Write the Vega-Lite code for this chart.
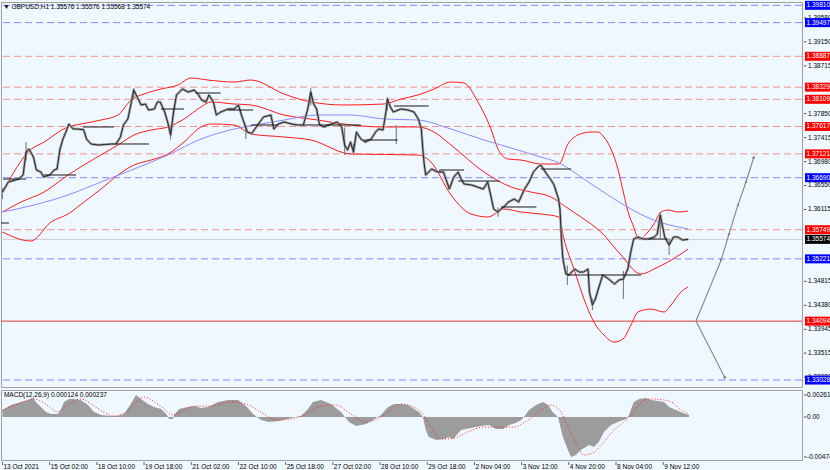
{
  "$schema": "https://vega.github.io/schema/vega-lite/v6.json",
  "padding": 0,
  "background": "#f0f8ff",
  "spacing": 1,
  "config": {
    "view": {"stroke": "#a0a0a0", "fill": "#f0f8ff"},
    "font": "Liberation Sans",
    "concat": {"spacing": 0},
    "line": {"strokeJoin": "round", "clip": true},
    "rule": {"clip": true},
    "text": {"clip": true},
    "area": {"clip": true},
    "point": {"clip": true},
    "tick": {"clip": true}
  },
  "resolve": {"scale": {"color": "independent", "fill": "independent", "stroke": "independent", "strokeDash": "independent"}},
  "datasets": {
    "levels": [
      {"p": 1.39810, "kind": "pivot"}, {"p": 1.39497, "kind": "pivot"}, {"p": 1.38887, "kind": "level"},
      {"p": 1.38329, "kind": "level"}, {"p": 1.38109, "kind": "level"}, {"p": 1.37617, "kind": "level"},
      {"p": 1.37121, "kind": "level"}, {"p": 1.36690, "kind": "pivot"}, {"p": 1.35749, "kind": "level"},
      {"p": 1.35574, "kind": "last"}, {"p": 1.35221, "kind": "pivot"}, {"p": 1.34094, "kind": "key"},
      {"p": 1.33028, "kind": "pivot"}
    ],
    "ticks": [
      {"p": 1.39580}, {"p": 1.39150}, {"p": 1.38715}, {"p": 1.37850}, {"p": 1.37415}, {"p": 1.36980},
      {"p": 1.36550}, {"p": 1.36115}, {"p": 1.34815}, {"p": 1.34380}, {"p": 1.33945}, {"p": 1.33515}, {"p": 1.33080}
    ],
    "macdticks": [
      {"v": 0.00261, "lab": "0.00261"}, {"v": 0, "lab": "0.00"}, {"v": -0.00474, "lab": "-0.00474"}
    ],
    "dates": [
      {"t": 0, "lab": "13 Oct 2021"}, {"t": 32, "lab": "15 Oct 02:00"}, {"t": 64, "lab": "18 Oct 10:00"},
      {"t": 96, "lab": "19 Oct 18:00"}, {"t": 128, "lab": "21 Oct 02:00"}, {"t": 160, "lab": "22 Oct 10:00"},
      {"t": 192, "lab": "25 Oct 18:00"}, {"t": 224, "lab": "27 Oct 02:00"}, {"t": 256, "lab": "28 Oct 10:00"},
      {"t": 288, "lab": "29 Oct 18:00"}, {"t": 320, "lab": "2 Nov 04:00"}, {"t": 352, "lab": "3 Nov 12:00"},
      {"t": 384, "lab": "4 Nov 20:00"}, {"t": 416, "lab": "8 Nov 04:00"}, {"t": 448, "lab": "9 Nov 12:00"}
    ],
    "price": [
      {"t":0,"c":1.36431},{"t":4,"c":1.36612},{"t":11,"c":1.36666},{"t":14,"c":1.36739},{"t":16,"c":1.37155},
      {"t":18,"c":1.37209},{"t":21,"c":1.37065},{"t":23,"c":1.36829},{"t":26,"c":1.36793},{"t":28,"c":1.36703},
      {"t":32,"c":1.36739},{"t":35,"c":1.36829},{"t":37,"c":1.36847},{"t":39,"c":1.37209},{"t":41,"c":1.37390},
      {"t":43,"c":1.37517},{"t":45,"c":1.37662},{"t":48,"c":1.37571},{"t":51,"c":1.37571},{"t":55,"c":1.37560},
      {"t":57,"c":1.37390},{"t":60,"c":1.37300},{"t":65,"c":1.37282},{"t":69,"c":1.37290},{"t":74,"c":1.37300},
      {"t":77,"c":1.37300},{"t":80,"c":1.37427},{"t":82,"c":1.37644},{"t":85,"c":1.37752},{"t":87,"c":1.38006},
      {"t":89,"c":1.38277},{"t":92,"c":1.38114},{"t":94,"c":1.38006},{"t":97,"c":1.38024},{"t":99,"c":1.37915},
      {"t":103,"c":1.37933},{"t":105,"c":1.38060},{"t":107,"c":1.38060},{"t":110,"c":1.37879},{"t":112,"c":1.37698},
      {"t":114,"c":1.37463},{"t":116,"c":1.37879},{"t":118,"c":1.38187},{"t":120,"c":1.38241},{"t":122,"c":1.38295},
      {"t":126,"c":1.38241},{"t":130,"c":1.38277},{"t":133,"c":1.38187},{"t":135,"c":1.38096},{"t":138,"c":1.38060},
      {"t":140,"c":1.38187},{"t":143,"c":1.38060},{"t":145,"c":1.37825},{"t":148,"c":1.37879},{"t":153,"c":1.37933},
      {"t":157,"c":1.37933},{"t":160,"c":1.38006},{"t":162,"c":1.37825},{"t":166,"c":1.37517},{"t":169,"c":1.37490},
      {"t":173,"c":1.37644},{"t":177,"c":1.37789},{"t":182,"c":1.37825},{"t":184,"c":1.37571},{"t":187,"c":1.37662},
      {"t":191,"c":1.37698},{"t":196,"c":1.37662},{"t":200,"c":1.37644},{"t":204,"c":1.37644},{"t":207,"c":1.37933},
      {"t":209,"c":1.38241},{"t":211,"c":1.38024},{"t":213,"c":1.37933},{"t":215,"c":1.37644},{"t":218,"c":1.37608},
      {"t":223,"c":1.37662},{"t":227,"c":1.37698},{"t":230,"c":1.37608},{"t":232,"c":1.37282},{"t":234,"c":1.37191},
      {"t":236,"c":1.37336},{"t":238,"c":1.37155},{"t":240,"c":1.37517},{"t":243,"c":1.37390},{"t":246,"c":1.37336},
      {"t":250,"c":1.37390},{"t":253,"c":1.37517},{"t":255,"c":1.37571},{"t":258,"c":1.37553},{"t":260,"c":1.37879},
      {"t":261,"c":1.38114},{"t":263,"c":1.37970},{"t":265,"c":1.37879},{"t":270,"c":1.37933},{"t":275,"c":1.37915},
      {"t":279,"c":1.37879},{"t":282,"c":1.37752},{"t":284,"c":1.37571},{"t":285,"c":1.37209},{"t":286,"c":1.36920},
      {"t":287,"c":1.36739},{"t":291,"c":1.36847},{"t":295,"c":1.36793},{"t":299,"c":1.36793},{"t":303,"c":1.36485},
      {"t":306,"c":1.36703},{"t":309,"c":1.36793},{"t":311,"c":1.36666},{"t":313,"c":1.36576},{"t":318,"c":1.36558},
      {"t":322,"c":1.36522},{"t":326,"c":1.36485},{"t":329,"c":1.36612},{"t":331,"c":1.36377},{"t":333,"c":1.36123},
      {"t":336,"c":1.36069},{"t":338,"c":1.36123},{"t":340,"c":1.36160},{"t":343,"c":1.36250},{"t":347,"c":1.36304},
      {"t":350,"c":1.36250},{"t":354,"c":1.36485},{"t":357,"c":1.36612},{"t":360,"c":1.36793},{"t":363,"c":1.36884},
      {"t":365,"c":1.36920},{"t":369,"c":1.36757},{"t":372,"c":1.36648},{"t":374,"c":1.36558},{"t":377,"c":1.36304},
      {"t":378,"c":1.36123},{"t":379,"c":1.35580},{"t":380,"c":1.35218},{"t":382,"c":1.34947},{"t":384,"c":1.34929},
      {"t":388,"c":1.35037},{"t":391,"c":1.34983},{"t":394,"c":1.34983},{"t":397,"c":1.35037},{"t":398,"c":1.34621},
      {"t":400,"c":1.34386},{"t":402,"c":1.34494},{"t":404,"c":1.34675},{"t":407,"c":1.34929},{"t":411,"c":1.34856},
      {"t":415,"c":1.34766},{"t":418,"c":1.34838},{"t":421,"c":1.34856},{"t":424,"c":1.35037},{"t":426,"c":1.35345},
      {"t":428,"c":1.35580},{"t":431,"c":1.35617},{"t":434,"c":1.35580},{"t":438,"c":1.35580},{"t":442,"c":1.35617},
      {"t":444,"c":1.35671},{"t":446,"c":1.36015},{"t":449,"c":1.35617},{"t":452,"c":1.35472},{"t":455,"c":1.35617},
      {"t":458,"c":1.35617},{"t":461,"c":1.35562},{"t":465,"c":1.35574}
    ],
    "wicks": [
      {"t":0,"hi":1.36500,"lo":1.36304},{"t":16,"hi":1.37336,"lo":1.37000},{"t":89,"hi":1.38313,"lo":1.38100},
      {"t":114,"hi":1.37600,"lo":1.37380},{"t":165,"hi":1.37650,"lo":1.37390},{"t":209,"hi":1.38313,"lo":1.38000},
      {"t":232,"hi":1.37600,"lo":1.37100},{"t":238,"hi":1.37300,"lo":1.37100},{"t":261,"hi":1.38150,"lo":1.37900},
      {"t":267,"hi":1.37644,"lo":1.37300},{"t":336,"hi":1.36150,"lo":1.35985},{"t":383,"hi":1.35100,"lo":1.34748},
      {"t":400,"hi":1.34500,"lo":1.34295},{"t":421,"hi":1.35000,"lo":1.34494},{"t":446,"hi":1.36069,"lo":1.35600},
      {"t":452,"hi":1.35600,"lo":1.35290}
    ],
    "segments": [
      {"t1":-1,"t2":4.4,"p":1.35870},{"t1":0.4,"t2":16,"p":1.36666},{"t1":28.2,"t2":49.9,"p":1.36739},
      {"t1":54.6,"t2":75.6,"p":1.37608},{"t1":77,"t2":99.3,"p":1.37300},{"t1":107.5,"t2":123,"p":1.37933},
      {"t1":131,"t2":148,"p":1.38223},{"t1":153,"t2":170,"p":1.37915},{"t1":168.5,"t2":187,"p":1.37644},
      {"t1":204,"t2":243,"p":1.37644},{"t1":245,"t2":268,"p":1.37372},{"t1":265.5,"t2":289,"p":1.37988},
      {"t1":296,"t2":313,"p":1.36829},{"t1":309,"t2":337,"p":1.36630},{"t1":338,"t2":362,"p":1.36160},
      {"t1":365,"t2":385.5,"p":1.36847},{"t1":383.4,"t2":433,"p":1.34929},{"t1":438,"t2":451,"p":1.35580}
    ],
    "bands": [
      {"band":"upper","t":0,"p":1.36431},{"band":"upper","t":7.8,"p":1.36793},{"band":"upper","t":17.3,"p":1.37155},
      {"band":"upper","t":28.2,"p":1.37336},{"band":"upper","t":44.4,"p":1.37608},{"band":"upper","t":53.2,"p":1.37662},
      {"band":"upper","t":66.8,"p":1.37734},{"band":"upper","t":78.3,"p":1.37825},{"band":"upper","t":87.1,"p":1.38096},
      {"band":"upper","t":96,"p":1.38205},{"band":"upper","t":107.5,"p":1.38295},{"band":"upper","t":119,"p":1.38368},
      {"band":"upper","t":127.8,"p":1.38494},{"band":"upper","t":139.3,"p":1.38458},{"band":"upper","t":157,"p":1.38422},
      {"band":"upper","t":168.5,"p":1.38458},{"band":"upper","t":190.9,"p":1.38205},{"band":"upper","t":209.2,"p":1.38060},
      {"band":"upper","t":231.6,"p":1.38006},{"band":"upper","t":258.7,"p":1.38024},{"band":"upper","t":270.2,"p":1.38114},
      {"band":"upper","t":281.7,"p":1.38187},{"band":"upper","t":292.6,"p":1.38295},{"band":"upper","t":304.1,"p":1.38422},
      {"band":"upper","t":312.9,"p":1.38404},{"band":"upper","t":322.4,"p":1.38060},{"band":"upper","t":331.2,"p":1.37571},
      {"band":"upper","t":336,"p":1.37209},{"band":"upper","t":342.7,"p":1.37028},{"band":"upper","t":351.6,"p":1.37010},
      {"band":"upper","t":365.1,"p":1.36938},{"band":"upper","t":377.3,"p":1.36938},{"band":"upper","t":383.4,"p":1.37300},
      {"band":"upper","t":390.2,"p":1.37463},{"band":"upper","t":399,"p":1.37517},{"band":"upper","t":403.8,"p":1.37517},
      {"band":"upper","t":407.8,"p":1.37427},{"band":"upper","t":412.6,"p":1.37209},{"band":"upper","t":417.3,"p":1.36847},
      {"band":"upper","t":421.4,"p":1.36377},{"band":"upper","t":424.8,"p":1.36015},{"band":"upper","t":427.5,"p":1.35834},
      {"band":"upper","t":431.6,"p":1.35580},{"band":"upper","t":437.7,"p":1.35707},{"band":"upper","t":441.7,"p":1.35852},
      {"band":"upper","t":446.5,"p":1.36069},{"band":"upper","t":451.2,"p":1.36105},{"band":"upper","t":458,"p":1.36069},
      {"band":"upper","t":464.8,"p":1.36087},
      {"band":"mid","t":0,"p":1.36069},{"band":"mid","t":12.6,"p":1.36250},{"band":"mid","t":28.2,"p":1.36431},
      {"band":"mid","t":44.4,"p":1.36739},{"band":"mid","t":62,"p":1.37028},{"band":"mid","t":78.3,"p":1.37282},
      {"band":"mid","t":89.2,"p":1.37463},{"band":"mid","t":100.7,"p":1.37553},{"band":"mid","t":112.2,"p":1.37608},
      {"band":"mid","t":123.1,"p":1.37752},{"band":"mid","t":134.6,"p":1.37970},{"band":"mid","t":141.4,"p":1.38060},
      {"band":"mid","t":157,"p":1.38024},{"band":"mid","t":168.5,"p":1.38006},{"band":"mid","t":190.9,"p":1.37825},
      {"band":"mid","t":213.9,"p":1.37734},{"band":"mid","t":236.3,"p":1.37644},{"band":"mid","t":258.7,"p":1.37608},
      {"band":"mid","t":281.7,"p":1.37608},{"band":"mid","t":292.6,"p":1.37517},{"band":"mid","t":304.1,"p":1.37282},
      {"band":"mid","t":326.5,"p":1.36793},{"band":"mid","t":344.8,"p":1.36522},{"band":"mid","t":358.3,"p":1.36431},
      {"band":"mid","t":371.9,"p":1.36341},{"band":"mid","t":382.1,"p":1.36160},{"band":"mid","t":392.2,"p":1.35979},
      {"band":"mid","t":405.8,"p":1.35707},{"band":"mid","t":419.4,"p":1.35291},{"band":"mid","t":432.9,"p":1.34947},
      {"band":"mid","t":443.1,"p":1.35055},{"band":"mid","t":451.2,"p":1.35164},{"band":"mid","t":464.8,"p":1.35399},
      {"band":"lower","t":0,"p":1.35707},{"band":"lower","t":19.3,"p":1.35544},{"band":"lower","t":32.9,"p":1.35888},
      {"band":"lower","t":44.4,"p":1.36033},{"band":"lower","t":55.3,"p":1.36250},{"band":"lower","t":66.8,"p":1.36485},
      {"band":"lower","t":78.3,"p":1.36739},{"band":"lower","t":89.2,"p":1.36920},{"band":"lower","t":100.7,"p":1.37010},
      {"band":"lower","t":112.2,"p":1.37119},{"band":"lower","t":123.1,"p":1.37336},{"band":"lower","t":134.6,"p":1.37608},
      {"band":"lower","t":141.4,"p":1.37662},{"band":"lower","t":157,"p":1.37644},{"band":"lower","t":168.5,"p":1.37481},
      {"band":"lower","t":190.9,"p":1.37427},{"band":"lower","t":209.2,"p":1.37372},{"band":"lower","t":236.3,"p":1.37119},
      {"band":"lower","t":281.7,"p":1.37101},{"band":"lower","t":290.5,"p":1.36974},{"band":"lower","t":304.1,"p":1.36377},
      {"band":"lower","t":317.7,"p":1.36033},{"band":"lower","t":329.2,"p":1.35979},{"band":"lower","t":340,"p":1.36123},
      {"band":"lower","t":351.6,"p":1.36069},{"band":"lower","t":365.1,"p":1.36033},{"band":"lower","t":377.3,"p":1.35979},
      {"band":"lower","t":380.7,"p":1.35580},{"band":"lower","t":387.5,"p":1.35037},{"band":"lower","t":394.3,"p":1.34494},
      {"band":"lower","t":401,"p":1.34078},{"band":"lower","t":407.8,"p":1.33843},{"band":"lower","t":414.6,"p":1.33716},
      {"band":"lower","t":420.7,"p":1.33770},{"band":"lower","t":426.1,"p":1.34024},{"band":"lower","t":430.9,"p":1.34259},
      {"band":"lower","t":439.7,"p":1.34313},{"band":"lower","t":448.5,"p":1.34259},{"band":"lower","t":453.3,"p":1.34386},
      {"band":"lower","t":460,"p":1.34621},{"band":"lower","t":464.8,"p":1.34712}
    ],
    "ma": [
      {"t":0,"p":1.36069},{"t":21.4,"p":1.36196},{"t":44.4,"p":1.36377},{"t":66.8,"p":1.36612},{"t":89.2,"p":1.36847},
      {"t":112.2,"p":1.37101},{"t":134.6,"p":1.37390},{"t":157,"p":1.37571},{"t":175.3,"p":1.37662},{"t":190.9,"p":1.37734},
      {"t":213.9,"p":1.37825},{"t":236.3,"p":1.37825},{"t":258.7,"p":1.37752},{"t":281.7,"p":1.37734},{"t":304.1,"p":1.37571},
      {"t":326.5,"p":1.37372},{"t":338,"p":1.37282},{"t":360.4,"p":1.37101},{"t":378.7,"p":1.36938},{"t":394.3,"p":1.36666},
      {"t":410.5,"p":1.36377},{"t":426.1,"p":1.36123},{"t":439.7,"p":1.35943},{"t":464.8,"p":1.35761}
    ],
    "arrows": [
      {"g":"up","t":470.2,"p":1.34096},{"g":"up","t":477.0,"p":1.34531},{"g":"up","t":481.7,"p":1.34838},
      {"g":"up","t":487.2,"p":1.35200},{"g":"up","t":492.6,"p":1.35671},{"g":"up","t":498.7,"p":1.36196},
      {"g":"up","t":504.1,"p":1.36612},{"g":"up","t":509.5,"p":1.37065},
      {"g":"down","t":470.2,"p":1.34096},{"g":"down","t":489.9,"p":1.33064}
    ],
    "hist": [
      {"t":0,"v":0.00083},{"t":5.8,"v":0.00142},{"t":12.6,"v":0.00178},{"t":17.3,"v":0.00202},{"t":20.7,"v":0.00225},
      {"t":22.7,"v":0.00178},{"t":26,"v":0.00119},{"t":29.5,"v":0.00059},{"t":33,"v":0.00036},{"t":37.6,"v":0.00036},
      {"t":39.7,"v":0.00095},{"t":41.7,"v":0.00178},{"t":45,"v":0.00213},{"t":48.5,"v":0.00213},{"t":53,"v":0.00202},
      {"t":58,"v":0.00142},{"t":62,"v":0.00059},{"t":67,"v":0.00024},{"t":73.6,"v":0.00012},{"t":78,"v":0.00012},
      {"t":82.4,"v":0.00036},{"t":87,"v":0.00154},{"t":90.5,"v":0.00261},{"t":94,"v":0.00213},{"t":98.7,"v":0.00154},
      {"t":102.7,"v":0.00119},{"t":107.5,"v":0.00095},{"t":111,"v":0.00036},{"t":113,"v":-0.00024},{"t":115.6,"v":-0.00024},
      {"t":116.3,"v":0.00024},{"t":119.7,"v":0.00095},{"t":125.8,"v":0.00119},{"t":130,"v":0.00130},{"t":134.6,"v":0.00107},
      {"t":139.3,"v":0.00119},{"t":146.1,"v":0.00178},{"t":152.9,"v":0.00202},{"t":159.7,"v":0.00202},{"t":165.1,"v":0.00130},
      {"t":169.9,"v":0.00036},{"t":175.3,"v":-0.00036},{"t":180.7,"v":-0.00059},{"t":187.5,"v":-0.00047},{"t":195.6,"v":-0.00012},
      {"t":202.4,"v":0.00012},{"t":207.1,"v":0.00095},{"t":210.5,"v":0.00178},{"t":216,"v":0.00202},{"t":222.7,"v":0.00154},
      {"t":229.5,"v":0.00059},{"t":235,"v":-0.00059},{"t":239.7,"v":-0.00107},{"t":246.5,"v":-0.00083},{"t":251.2,"v":-0.00036},
      {"t":256.6,"v":0.00024},{"t":261.4,"v":0.00119},{"t":265.5,"v":0.00154},{"t":270.2,"v":0.00154},{"t":275,"v":0.00142},
      {"t":279,"v":0.00095},{"t":282.4,"v":0.00059},{"t":285,"v":0},{"t":287,"v":-0.00154},{"t":289,"v":-0.00237},
      {"t":294,"v":-0.00273},{"t":299.4,"v":-0.00261},{"t":302.7,"v":-0.00237},{"t":305.5,"v":-0.00261},{"t":311,"v":-0.00154},
      {"t":317.7,"v":-0.00130},{"t":324.4,"v":-0.00107},{"t":330,"v":-0.00095},{"t":334.6,"v":-0.00142},{"t":339.4,"v":-0.00142},
      {"t":343.4,"v":-0.00095},{"t":348,"v":-0.00071},{"t":351.6,"v":-0.00036},{"t":353.6,"v":0},{"t":357,"v":0.00083},
      {"t":361.7,"v":0.00142},{"t":366.5,"v":0.00178},{"t":370,"v":0.00142},{"t":373,"v":0.00059},{"t":376.6,"v":0},
      {"t":380,"v":-0.00237},{"t":383.4,"v":-0.00391},{"t":385.5,"v":-0.00474},{"t":388.9,"v":-0.00451},{"t":392,"v":-0.00391},
      {"t":395.6,"v":-0.00356},{"t":397.7,"v":-0.00332},{"t":401,"v":-0.00356},{"t":404.4,"v":-0.00297},{"t":407.8,"v":-0.00178},
      {"t":412.6,"v":-0.00095},{"t":417.3,"v":-0.00059},{"t":422.8,"v":-0.00024},{"t":424.8,"v":0.00024},{"t":428,"v":0.00178},
      {"t":431.6,"v":0.00213},{"t":436.3,"v":0.00225},{"t":439.7,"v":0.00202},{"t":444.4,"v":0.00190},{"t":448.5,"v":0.00178},
      {"t":452,"v":0.00119},{"t":456.7,"v":0.00083},{"t":461.4,"v":0.00047},{"t":465.5,"v":0.00024}
    ],
    "signal": [
      {"t":0,"v":0.00083},{"t":10.5,"v":0.00154},{"t":21.4,"v":0.00213},{"t":28.2,"v":0.00166},{"t":37.6,"v":0.00059},
      {"t":43.1,"v":0.00130},{"t":53.2,"v":0.00213},{"t":62,"v":0.00130},{"t":75.6,"v":0.00012},{"t":83.8,"v":0.00059},
      {"t":96,"v":0.00237},{"t":106.1,"v":0.00142},{"t":116.3,"v":0.00024},{"t":127.8,"v":0.00119},{"t":134.6,"v":0.00130},
      {"t":141.4,"v":0.00130},{"t":155,"v":0.00178},{"t":165.1,"v":0.00154},{"t":175.3,"v":0.00059},{"t":185.5,"v":-0.00036},
      {"t":195.6,"v":-0.00024},{"t":205.8,"v":0.00036},{"t":216,"v":0.00130},{"t":226.1,"v":0.00142},{"t":236.3,"v":0.00036},
      {"t":246.5,"v":-0.00059},{"t":256.6,"v":0},{"t":263.4,"v":0.00083},{"t":270.2,"v":0.00154},{"t":277,"v":0.00130},
      {"t":283.8,"v":0.00059},{"t":290.5,"v":-0.00119},{"t":297.3,"v":-0.00261},{"t":306.1,"v":-0.00249},{"t":315.6,"v":-0.00178},
      {"t":326.5,"v":-0.00119},{"t":338,"v":-0.00119},{"t":346.8,"v":-0.00119},{"t":356.3,"v":-0.00036},{"t":365.1,"v":0.00083},
      {"t":371.9,"v":0.00142},{"t":378.7,"v":0.00059},{"t":383.4,"v":-0.00119},{"t":388.9,"v":-0.00297},{"t":394.3,"v":-0.00451},
      {"t":401,"v":-0.00415},{"t":407.8,"v":-0.00297},{"t":414.6,"v":-0.00154},{"t":421.4,"v":-0.00059},{"t":428.2,"v":0.00059},
      {"t":433,"v":0.00178},{"t":439.7,"v":0.00213},{"t":448.5,"v":0.00202},{"t":454.6,"v":0.00166},{"t":460,"v":0.00083},
      {"t":465.5,"v":0.00036}
    ]
  },
  "vconcat": [
    {
      "resolve": {"scale": {"color": "independent", "fill": "independent", "stroke": "independent", "strokeDash": "independent"}},
      "hconcat": [
        {
          "width": 801,
          "height": 385,
          "layer": [
            {
              "data": {"name": "levels"},
              "mark": {"type": "rule", "strokeWidth": 1},
              "encoding": {
                "y": {"field": "p", "type": "quantitative", "scale": {"domain": [1.32902, 1.39870], "nice": false, "zero": false}, "axis": null},
                "color": {"field": "kind", "type": "nominal", "legend": null,
                  "scale": {"domain": ["pivot", "level", "key", "last"], "range": ["#8585ff", "#f39090", "#e03a3a", "#cfcfcf"]}},
                "strokeDash": {"field": "kind", "type": "nominal", "legend": null,
                  "scale": {"domain": ["pivot", "level", "key", "last"], "range": [[7, 4], [7, 4], [1, 0], [1, 0]]}}
              }
            },
            {
              "data": {"name": "bands"},
              "mark": {"type": "line", "stroke": "#ff1a1a", "strokeWidth": 1, "interpolate": "monotone"},
              "encoding": {
                "x": {"field": "t", "type": "quantitative", "scale": {"domain": [-1, 542.1], "nice": false, "zero": false}, "axis": null},
                "y": {"field": "p", "type": "quantitative", "scale": {"domain": [1.32902, 1.39870], "nice": false, "zero": false}, "axis": null},
                "detail": {"field": "band", "type": "nominal"}
              }
            },
            {
              "data": {"name": "ma"},
              "mark": {"type": "line", "stroke": "#8a8aff", "strokeWidth": 1, "interpolate": "monotone"},
              "encoding": {
                "x": {"field": "t", "type": "quantitative", "scale": {"domain": [-1, 542.1], "nice": false, "zero": false}, "axis": null},
                "y": {"field": "p", "type": "quantitative", "scale": {"domain": [1.32902, 1.39870], "nice": false, "zero": false}, "axis": null}
              }
            },
            {
              "data": {"name": "price"},
              "mark": {"type": "line", "stroke": "#a3a3a3", "strokeWidth": 2.6},
              "encoding": {
                "x": {"field": "t", "type": "quantitative", "scale": {"domain": [-1, 542.1], "nice": false, "zero": false}, "axis": null},
                "y": {"field": "c", "type": "quantitative", "scale": {"domain": [1.32902, 1.39870], "nice": false, "zero": false}, "axis": null}
              }
            },
            {
              "data": {"name": "wicks"},
              "mark": {"type": "rule", "stroke": "#7a7a7a", "strokeWidth": 1.1},
              "encoding": {
                "x": {"field": "t", "type": "quantitative", "scale": {"domain": [-1, 542.1], "nice": false, "zero": false}, "axis": null},
                "y": {"field": "hi", "type": "quantitative", "scale": {"domain": [1.32902, 1.39870], "nice": false, "zero": false}, "axis": null},
                "y2": {"field": "lo"}
              }
            },
            {
              "data": {"name": "price"},
              "mark": {"type": "line", "stroke": "#1a1a1a", "strokeWidth": 0.9},
              "encoding": {
                "x": {"field": "t", "type": "quantitative", "scale": {"domain": [-1, 542.1], "nice": false, "zero": false}, "axis": null},
                "y": {"field": "c", "type": "quantitative", "scale": {"domain": [1.32902, 1.39870], "nice": false, "zero": false}, "axis": null}
              }
            },
            {
              "data": {"name": "segments"},
              "mark": {"type": "rule", "stroke": "#1a1a1a", "strokeWidth": 1},
              "encoding": {
                "x": {"field": "t1", "type": "quantitative", "scale": {"domain": [-1, 542.1], "nice": false, "zero": false}, "axis": null},
                "x2": {"field": "t2"},
                "y": {"field": "p", "type": "quantitative", "scale": {"domain": [1.32902, 1.39870], "nice": false, "zero": false}, "axis": null}
              }
            },
            {
              "data": {"name": "arrows"},
              "mark": {"type": "line", "stroke": "#8c8c8c", "strokeWidth": 1.2, "interpolate": "monotone"},
              "encoding": {
                "x": {"field": "t", "type": "quantitative", "scale": {"domain": [-1, 542.1], "nice": false, "zero": false}, "axis": null},
                "y": {"field": "p", "type": "quantitative", "scale": {"domain": [1.32902, 1.39870], "nice": false, "zero": false}, "axis": null},
                "detail": {"field": "g", "type": "nominal"}
              }
            },
            {
              "data": {"name": "arrows"},
              "transform": [{"filter": "datum.g == 'up' && datum.t > 485 && datum.t < 509"}],
              "mark": {"type": "point", "filled": true, "color": "#777777", "size": 6},
              "encoding": {
                "x": {"field": "t", "type": "quantitative", "scale": {"domain": [-1, 542.1], "nice": false, "zero": false}, "axis": null},
                "y": {"field": "p", "type": "quantitative", "scale": {"domain": [1.32902, 1.39870], "nice": false, "zero": false}, "axis": null}
              }
            },
            {
              "data": {"name": "arrows"},
              "transform": [{"filter": "datum.g == 'up' && datum.t > 509"}],
              "mark": {"type": "point", "shape": "triangle-up", "filled": true, "color": "#707070", "size": 14, "angle": 18},
              "encoding": {
                "x": {"field": "t", "type": "quantitative", "scale": {"domain": [-1, 542.1], "nice": false, "zero": false}, "axis": null},
                "y": {"field": "p", "type": "quantitative", "scale": {"domain": [1.32902, 1.39870], "nice": false, "zero": false}, "axis": null}
              }
            },
            {
              "data": {"name": "arrows"},
              "transform": [{"filter": "datum.g == 'down' && datum.t > 480"}],
              "mark": {"type": "point", "shape": "triangle-down", "filled": true, "color": "#707070", "size": 14, "angle": 333},
              "encoding": {
                "x": {"field": "t", "type": "quantitative", "scale": {"domain": [-1, 542.1], "nice": false, "zero": false}, "axis": null},
                "y": {"field": "p", "type": "quantitative", "scale": {"domain": [1.32902, 1.39870], "nice": false, "zero": false}, "axis": null}
              }
            },
            {
              "data": {"values": [{"label": "▼ GBPUSD,H1  1.35576 1.35576 1.35568 1.35574"}]},
              "mark": {"type": "text", "align": "left", "baseline": "middle", "fontSize": 6.5, "font": "Liberation Sans", "color": "#000000"},
              "encoding": {
                "x": {"datum": 0.5, "type": "quantitative", "scale": {"domain": [-1, 542.1], "nice": false, "zero": false}, "axis": null},
                "y": {"datum": 1.39780, "type": "quantitative", "scale": {"domain": [1.32902, 1.39870], "nice": false, "zero": false}, "axis": null},
                "text": {"field": "label"}
              }
            }
          ]
        },
        {
          "width": 29,
          "height": 385,
          "view": {"stroke": null, "fill": "#f0f8ff"},
          "layer": [
            {
              "data": {"name": "ticks"},
              "mark": {"type": "rule", "stroke": "#505050", "strokeWidth": 1},
              "encoding": {
                "x": {"datum": 0, "type": "quantitative", "scale": {"domain": [0, 29], "nice": false, "zero": false}, "axis": null},
                "x2": {"datum": 2.5},
                "y": {"field": "p", "type": "quantitative", "scale": {"domain": [1.32902, 1.39870], "nice": false, "zero": false}, "axis": null}
              }
            },
            {
              "data": {"name": "ticks"},
              "mark": {"type": "text", "align": "left", "baseline": "middle", "fontSize": 6.5, "font": "Liberation Sans", "color": "#000000"},
              "encoding": {
                "x": {"datum": 4, "type": "quantitative", "scale": {"domain": [0, 29], "nice": false, "zero": false}, "axis": null},
                "y": {"field": "p", "type": "quantitative", "scale": {"domain": [1.32902, 1.39870], "nice": false, "zero": false}, "axis": null},
                "text": {"field": "p", "type": "quantitative", "format": ".5f"}
              }
            },
            {
              "data": {"name": "levels"},
              "mark": {"type": "tick", "orient": "horizontal", "thickness": 9, "size": 27.5, "opacity": 1},
              "encoding": {
                "x": {"datum": 14.75, "type": "quantitative", "scale": {"domain": [0, 29], "nice": false, "zero": false}, "axis": null},
                "y": {"field": "p", "type": "quantitative", "scale": {"domain": [1.32902, 1.39870], "nice": false, "zero": false}, "axis": null},
                "fill": {"field": "kind", "type": "nominal", "legend": null,
                  "scale": {"domain": ["pivot", "level", "key", "last"], "range": ["#0000ff", "#ff0000", "#ff0000", "#000000"]}}
              }
            },
            {
              "data": {"name": "levels"},
              "mark": {"type": "text", "align": "left", "baseline": "middle", "fontSize": 6.5, "font": "Liberation Sans", "color": "#ffffff"},
              "encoding": {
                "x": {"datum": 2.5, "type": "quantitative", "scale": {"domain": [0, 29], "nice": false, "zero": false}, "axis": null},
                "y": {"field": "p", "type": "quantitative", "scale": {"domain": [1.32902, 1.39870], "nice": false, "zero": false}, "axis": null},
                "text": {"field": "p", "type": "quantitative", "format": ".5f"}
              }
            }
          ]
        }
      ]
    },
    {
      "vconcat": [
        {
          "hconcat": [
            {
              "width": 801,
              "height": 70,
              "layer": [
                {
                  "data": {"name": "hist"},
                  "mark": {"type": "area", "color": "#9c9c9c"},
                  "encoding": {
                    "x": {"field": "t", "type": "quantitative", "scale": {"domain": [-1, 542.1], "nice": false, "zero": false}, "axis": null},
                    "y": {"field": "v", "type": "quantitative", "scale": {"domain": [-0.0051, 0.0032], "nice": false, "zero": false}, "axis": null},
                    "y2": {"datum": 0}
                  }
                },
                {
                  "data": {"name": "signal"},
                  "mark": {"type": "line", "stroke": "#ff2020", "strokeWidth": 1, "strokeDash": [1, 2], "interpolate": "monotone"},
                  "encoding": {
                    "x": {"field": "t", "type": "quantitative", "scale": {"domain": [-1, 542.1], "nice": false, "zero": false}, "axis": null},
                    "y": {"field": "v", "type": "quantitative", "scale": {"domain": [-0.0051, 0.0032], "nice": false, "zero": false}, "axis": null}
                  }
                },
                {
                  "data": {"values": [{"label": "MACD(12,26,9) 0.000124 0.000237"}]},
                  "mark": {"type": "text", "align": "left", "baseline": "middle", "fontSize": 6.5, "font": "Liberation Sans", "color": "#000000"},
                  "encoding": {
                    "x": {"datum": 1, "type": "quantitative", "scale": {"domain": [-1, 542.1], "nice": false, "zero": false}, "axis": null},
                    "y": {"datum": 0.00261, "type": "quantitative", "scale": {"domain": [-0.0051, 0.0032], "nice": false, "zero": false}, "axis": null},
                    "text": {"field": "label"}
                  }
                }
              ]
            },
            {
              "width": 29,
              "height": 70,
              "view": {"stroke": null, "fill": "#f0f8ff"},
              "layer": [
                {
                  "data": {"name": "macdticks"},
                  "mark": {"type": "rule", "stroke": "#505050", "strokeWidth": 1},
                  "encoding": {
                    "x": {"datum": 0, "type": "quantitative", "scale": {"domain": [0, 29], "nice": false, "zero": false}, "axis": null},
                    "x2": {"datum": 2.5},
                    "y": {"field": "v", "type": "quantitative", "scale": {"domain": [-0.0051, 0.0032], "nice": false, "zero": false}, "axis": null}
                  }
                },
                {
                  "data": {"name": "macdticks"},
                  "mark": {"type": "text", "align": "left", "baseline": "middle", "fontSize": 6.5, "font": "Liberation Sans", "color": "#000000", "clip": false},
                  "encoding": {
                    "x": {"datum": 3, "type": "quantitative", "scale": {"domain": [0, 29], "nice": false, "zero": false}, "axis": null},
                    "y": {"field": "v", "type": "quantitative", "scale": {"domain": [-0.0051, 0.0032], "nice": false, "zero": false}, "axis": null},
                    "text": {"field": "lab"}
                  }
                }
              ]
            }
          ]
        },
        {
          "width": 801,
          "height": 11,
          "view": {"stroke": null, "fill": "#f0f8ff"},
          "layer": [
            {
              "data": {"name": "dates"},
              "mark": {"type": "rule", "stroke": "#606060", "strokeWidth": 1},
              "encoding": {
                "x": {"field": "t", "type": "quantitative", "scale": {"domain": [-1, 542.1], "nice": false, "zero": false}, "axis": null},
                "y": {"datum": 11, "type": "quantitative", "scale": {"domain": [0, 11], "nice": false, "zero": false}, "axis": null},
                "y2": {"datum": 8}
              }
            },
            {
              "data": {"name": "dates"},
              "mark": {"type": "text", "align": "left", "baseline": "middle", "fontSize": 6.5, "font": "Liberation Sans", "color": "#000000", "dx": 1},
              "encoding": {
                "x": {"field": "t", "type": "quantitative", "scale": {"domain": [-1, 542.1], "nice": false, "zero": false}, "axis": null},
                "y": {"datum": 6.3, "type": "quantitative", "scale": {"domain": [0, 11], "nice": false, "zero": false}, "axis": null},
                "text": {"field": "lab"}
              }
            }
          ]
        }
      ]
    }
  ]
}
